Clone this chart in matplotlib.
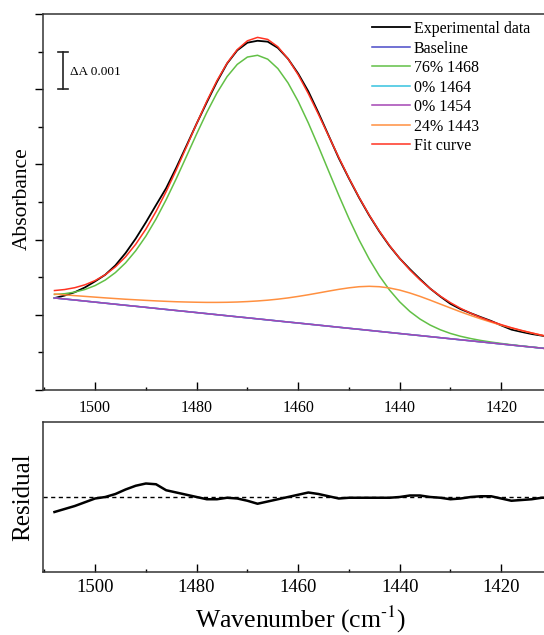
import numpy as np
import matplotlib
matplotlib.use("Agg")
import matplotlib.pyplot as plt
from matplotlib.ticker import MultipleLocator, NullFormatter

# wavenumber grid (cm-1) and absorbance values in units of 1e-3
wavenumber = [1508, 1506, 1504, 1502, 1500, 1498, 1496, 1494, 1492, 1490,
              1488, 1486, 1484, 1482, 1480, 1478, 1476, 1474, 1472, 1470,
              1468, 1466, 1464, 1462, 1460, 1458, 1456, 1454, 1452, 1450,
              1448, 1446, 1444, 1442, 1440, 1438, 1436, 1434, 1432, 1430,
              1428, 1426, 1424, 1422, 1420, 1418, 1416, 1414, 1412, 1410]

baseline = [2.448, 2.420, 2.393, 2.365, 2.337, 2.309, 2.281, 2.253, 2.226, 2.198,
            2.170, 2.142, 2.114, 2.087, 2.059, 2.031, 2.003, 1.975, 1.947, 1.920,
            1.892, 1.864, 1.836, 1.808, 1.781, 1.753, 1.725, 1.697, 1.669, 1.641,
            1.614, 1.586, 1.558, 1.530, 1.502, 1.474, 1.447, 1.419, 1.391, 1.363,
            1.335, 1.308, 1.280, 1.252, 1.224, 1.196, 1.168, 1.141, 1.113, 1.085]

# fitted components above the baseline
band_1468 = [0.093, 0.141, 0.211, 0.308, 0.440, 0.615, 0.842, 1.128, 1.477, 1.894,
             2.377, 2.920, 3.509, 4.127, 4.750, 5.350, 5.896, 6.360, 6.713, 6.935,
             7.010, 6.935, 6.713, 6.360, 5.896, 5.350, 4.750, 4.127, 3.509, 2.920,
             2.377, 1.894, 1.477, 1.128, 0.842, 0.615, 0.440, 0.308, 0.211, 0.141,
             0.093, 0.060, 0.037, 0.023, 0.014, 0.008, 0.005, 0.003, 0.001, 0.001]

band_1443 = [0.104, 0.111, 0.117, 0.125, 0.133, 0.141, 0.151, 0.161, 0.173, 0.186,
             0.200, 0.216, 0.233, 0.253, 0.275, 0.299, 0.327, 0.358, 0.393, 0.432,
             0.476, 0.525, 0.580, 0.641, 0.708, 0.780, 0.856, 0.933, 1.008, 1.076,
             1.133, 1.172, 1.189, 1.183, 1.155, 1.106, 1.043, 0.971, 0.894, 0.818,
             0.743, 0.674, 0.610, 0.552, 0.500, 0.453, 0.412, 0.375, 0.342, 0.313]

# experimental - fit
residual = [-0.20, -0.16, -0.12, -0.07, -0.02, 0.00, 0.04, 0.10, 0.15, 0.18,
            0.17, 0.09, 0.06, 0.03, 0.00, -0.03, -0.03, -0.01, -0.02, -0.05,
            -0.09, -0.06, -0.03, 0.00, 0.03, 0.06, 0.04, 0.01, -0.02, -0.01,
            -0.01, -0.01, -0.01, -0.01, 0.00, 0.02, 0.02, 0.00, -0.01, -0.03,
            -0.02, 0.00, 0.01, 0.01, -0.02, -0.05, -0.04, -0.03, -0.01, -0.01]

wn = np.array(wavenumber)
base = np.array(baseline)
green = base + np.array(band_1468)
orange = base + np.array(band_1443)
fit = base + np.array(band_1468) + np.array(band_1443)
experimental = fit + np.array(residual)

plt.rcParams['font.family'] = ['Liberation Serif', 'DejaVu Serif']
plt.rcParams['mathtext.fontset'] = 'stix'

W, H = 544, 635
fig = plt.figure(figsize=(W / 100, H / 100), dpi=100)
ax1 = fig.add_axes([43 / W, 1 - 390 / H, 509 / W, 376 / H])
ax2 = fig.add_axes([43 / W, 1 - 572 / H, 509 / W, 150 / H])

ax1.plot(wn, experimental, color='black', lw=1.3, label='Experimental data')
ax1.plot(wn, base, color='#4a4ac8', lw=1.1, label='Baseline')
ax1.plot(wn, green, color='#62c046', lw=1.1, label='76% 1468')
# 0% components sit on the baseline
ax1.plot(wn, base, color='#36c2df', lw=1.1, label='0% 1464')
ax1.plot(wn, base, color='#a445b4', lw=1.1, label='0% 1454')
ax1.plot(wn, orange, color='#ff9040', lw=1.1, label='24% 1443')
ax1.plot(wn, fit, color='#ff3322', lw=1.1, label='Fit curve')

# scale bar
ax1.plot([1506.3, 1506.3], [8, 9], color='#222222', lw=1.2)
ax1.plot([1507.3, 1505.3], [8, 8], color='#222222', lw=1.2)
ax1.plot([1507.3, 1505.3], [9, 9], color='#222222', lw=1.2)
ax1.text(1505.0, 8.45, '\u0394A 0.001', fontsize=9.5, va='center', ha='left')

ax1.legend(loc='upper left', bbox_to_anchor=(372 / W, 1 - 21 / H),
           bbox_transform=fig.transFigure, frameon=False, fontsize=11.5,
           handlelength=2.4, handletextpad=0.2, labelspacing=0.22,
           borderpad=0, borderaxespad=0)

ax2.plot(wn, residual, color='black', lw=1.8)
ax2.axhline(0, color='black', lw=1.0, ls=(0, (3, 2.5)))

for ax in (ax1, ax2):
    ax.set_xlim(1510.26, 1410)
    ax.xaxis.set_major_locator(MultipleLocator(20))
    ax.xaxis.set_minor_locator(MultipleLocator(10))
    ax.tick_params(axis='x', which='major', direction='in', length=5.5, width=1)
    ax.tick_params(axis='x', which='minor', direction='in', length=2.5, width=1)
    for s in ax.spines.values():
        s.set_linewidth(1.1)
        s.set_color('#333333')

ax1.set_ylim(0, 10)
ax1.yaxis.set_major_locator(MultipleLocator(2))
ax1.yaxis.set_minor_locator(MultipleLocator(1))
ax1.yaxis.set_major_formatter(NullFormatter())
ax1.tick_params(axis='y', which='major', direction='out', length=5.5, width=1)
ax1.tick_params(axis='y', which='minor', direction='out', length=3.5, width=1)
ax1.tick_params(axis='x', labelsize=11.5, pad=7)

ax2.set_ylim(-1, 1)
ax2.set_yticks([])
ax2.tick_params(axis='x', labelsize=13.5, pad=5)

fig.text(22 / W, 1 - 199 / H, 'Absorbance', rotation=90, fontsize=15.5,
         ha='center', va='center')
fig.text(23 / W, 1 - 497 / H, 'Residual', rotation=90, fontsize=18,
         ha='center', va='center')
fig.text(301 / W, 1 - 628 / H, r'Wavenumber (cm$^{\text{-1}}$)', fontsize=18.5,
         ha='center', va='baseline')

fig.savefig('out.png', dpi=100)
